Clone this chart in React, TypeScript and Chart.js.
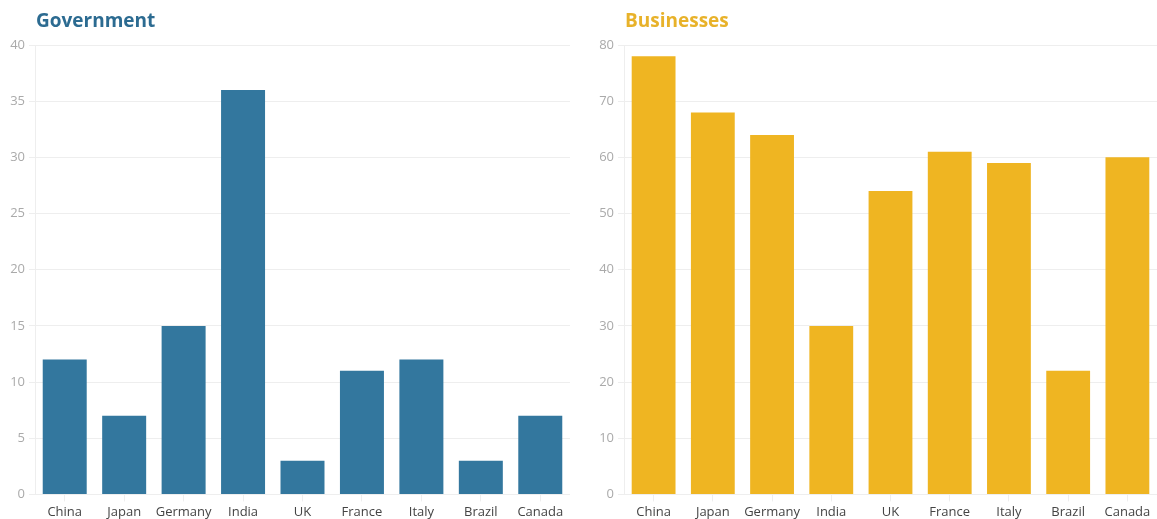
import React, { useEffect, useRef } from "react";
import { Chart, registerables } from "chart.js";

Chart.register(...registerables);

const categories = ["China", "Japan", "Germany", "India", "UK", "France", "Italy", "Brazil", "Canada"];
const governmentValues = [12, 7, 15, 36, 3, 11, 12, 3, 7];
const businessValues = [78, 68, 64, 30, 54, 61, 59, 22, 60];
const governmentTitle = "Government";
const businessTitle = "Businesses";

const FONT = "'Open Sans', 'Noto Sans', sans-serif";
const CANVAS_H = 523;

function BarPanel(props: {
  title: string;
  titleColor: string;
  barColor: string;
  values: number[];
  max: number;
  step: number;
  left: number;
  width: number;
}) {
  const ref = useRef<HTMLCanvasElement | null>(null);
  useEffect(() => {
    if (!ref.current) return;
    const chart = new Chart(ref.current, {
      type: "bar",
      data: {
        labels: categories,
        datasets: [
          {
            data: props.values,
            backgroundColor: props.barColor,
            categoryPercentage: 1,
            barPercentage: 0.74,
          },
        ],
      },
      options: {
        animation: false,
        responsive: false,
        maintainAspectRatio: false,
        layout: { padding: { top: 45, right: 0, bottom: 0, left: 0 } },
        plugins: { legend: { display: false }, tooltip: { enabled: false }, title: { display: false } },
        scales: {
          x: {
            grid: {
              display: true,
              drawOnChartArea: false,
              offset: false,
              color: "#eeeeee",
              tickLength: 7,
            },
            border: { color: "#eeeeee" },
            ticks: {
              color: "#444444",
              font: { family: FONT, size: 13 },
              padding: 3,
              maxRotation: 0,
              minRotation: 0,
              autoSkip: false,
            },
          },
          y: {
            min: 0,
            max: props.max,
            afterFit: (axis: any) => {
              axis.width = 35;
            },
            grid: { color: "#eeeeee", tickLength: 6 },
            border: { color: "#eeeeee" },
            ticks: {
              stepSize: props.step,
              color: "#aaaaaa",
              font: { family: FONT, size: 13 },
              padding: 4,
            },
          },
        },
      },
    });
    return () => chart.destroy();
  }, []);
  return (
    <div style={{ position: "absolute", left: props.left, top: 0, width: props.width, height: CANVAS_H }}>
      <canvas ref={ref} width={props.width} height={CANVAS_H} style={{ display: "block" }} />
      <div
        style={{
          position: "absolute",
          left: 36,
          top: 6,
          fontFamily: FONT,
          fontWeight: 700,
          fontSize: 19,
          lineHeight: "28px",
          color: props.titleColor,
        }}
      >
        {props.title}
      </div>
    </div>
  );
}

export default function App() {
  return (
    <div
      style={{
        position: "fixed",
        left: 0,
        top: 0,
        width: 1157,
        height: 519,
        overflow: "hidden",
        background: "#ffffff",
      }}
    >
      <BarPanel
        title={governmentTitle}
        titleColor="#2c6b91"
        barColor="#33779e"
        values={governmentValues}
        max={40}
        step={5}
        left={0}
        width={570}
      />
      <BarPanel
        title={businessTitle}
        titleColor="#e8b22a"
        barColor="#efb522"
        values={businessValues}
        max={80}
        step={10}
        left={589}
        width={568}
      />
    </div>
  );
}
